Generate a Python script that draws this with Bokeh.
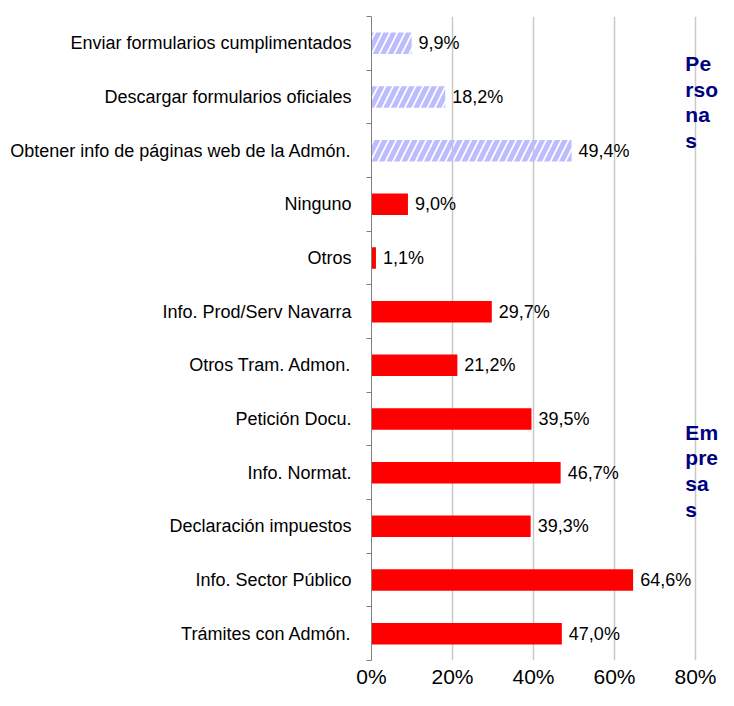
from bokeh.plotting import figure
from bokeh.models import FixedTicker, Range1d, Label, ColumnDataSource, PrintfTickFormatter
from bokeh.core.properties import value
from bokeh.embed import file_html
from bokeh.resources import INLINE

# ---- data ----
categories = [
    "Enviar formularios cumplimentados",
    "Descargar formularios oficiales",
    "Obtener info de páginas web de la Admón.",
    "Ninguno",
    "Otros",
    "Info. Prod/Serv Navarra",
    "Otros Tram. Admon.",
    "Petición Docu.",
    "Info. Normat.",
    "Declaración impuestos",
    "Info. Sector Público",
    "Trámites con Admón.",
]
values = [9.9, 18.2, 49.4, 9.0, 1.1, 29.7, 21.2, 39.5, 46.7, 39.3, 64.6, 47.0]
groups = ["Personas", "Personas", "Personas",
          "Empresas", "Empresas", "Empresas", "Empresas", "Empresas",
          "Empresas", "Empresas", "Empresas", "Empresas"]
x_ticks = [0, 20, 40, 60, 80]
group_titles = {"Personas": "Pe\nrso\nna\ns", "Empresas": "Em\npre\nsa\ns"}

FONT = "Liberation Sans"
n = len(categories)
idx = list(range(n))
labels = [f"{v:.1f}".replace(".", ",") + "%" for v in values]

def subset(g):
    ii = [i for i in idx if groups[i] == g]
    return ColumnDataSource(dict(y=ii, v=[values[i] for i in ii], lab=[labels[i] for i in ii]))

src_p = subset("Personas")
src_e = subset("Empresas")

p = figure(width=718, height=690, output_backend="svg", toolbar_location=None,
           x_range=Range1d(0, 85.68), y_range=Range1d(n - 0.5, -0.5),
           min_border_left=371, min_border_right=0, min_border_top=16, min_border_bottom=28)
p.outline_line_color = None
p.background_fill_color = "white"
p.border_fill_color = "white"

# bars
p.hbar(y="y", right="v", left=0, height=0.4, source=src_p,
       fill_color=None, line_color=None,
       hatch_pattern="/", hatch_color="#bcbcff", hatch_weight=5, hatch_scale=15)
p.hbar(y="y", right="v", left=0, height=0.4, source=src_e,
       fill_color="#ff0000", line_color=None)

# value labels
for s in (src_p, src_e):
    p.text(x="v", y="y", text="lab", source=s, x_offset=7,
           text_align="left", text_baseline="middle",
           text_font=value(FONT), text_font_size="18px", text_color="black")

# x axis
p.xaxis.ticker = FixedTicker(ticks=x_ticks)
p.xaxis.formatter = PrintfTickFormatter(format="%d%%")
p.xaxis.axis_line_color = None
p.xaxis.major_tick_line_color = None
p.xaxis.major_tick_out = 0
p.xaxis.minor_tick_line_color = None
p.xaxis.major_label_text_font = FONT
p.xaxis.major_label_text_font_size = "21px"
p.xaxis.major_label_text_color = "black"
p.xaxis.major_label_standoff = 4

p.xgrid.ticker = FixedTicker(ticks=x_ticks)
p.xgrid.grid_line_color = "#c8c8c8"
p.xgrid.grid_line_width = 1.5
p.ygrid.grid_line_color = None

# y axis: labels at centers, tick marks at band boundaries
p.yaxis.ticker = FixedTicker(ticks=idx, minor_ticks=[i - 0.5 for i in range(n + 1)])
p.yaxis.major_label_overrides = {i: categories[i] for i in idx}
p.yaxis.axis_line_color = "#808080"
p.yaxis.major_tick_line_color = None
p.yaxis.major_tick_out = 5
p.yaxis.major_tick_in = 0
p.yaxis.minor_tick_line_color = "#808080"
p.yaxis.minor_tick_out = 5
p.yaxis.minor_tick_in = 0
p.yaxis.major_label_standoff = 15
p.yaxis.major_label_text_font = FONT
p.yaxis.major_label_text_font_size = "18px"
p.yaxis.major_label_text_color = "black"

# group titles at right
for g, ypos in (("Personas", 0.16), ("Empresas", 7.03)):
    p.add_layout(Label(x=77.5, y=ypos, text=group_titles[g],
                       text_font=FONT, text_font_size="21px", text_font_style="bold",
                       text_color="#000080", text_baseline="top", text_align="left",
                       text_line_height=1.12))

open("out.html", "w").write(file_html(p, INLINE))
